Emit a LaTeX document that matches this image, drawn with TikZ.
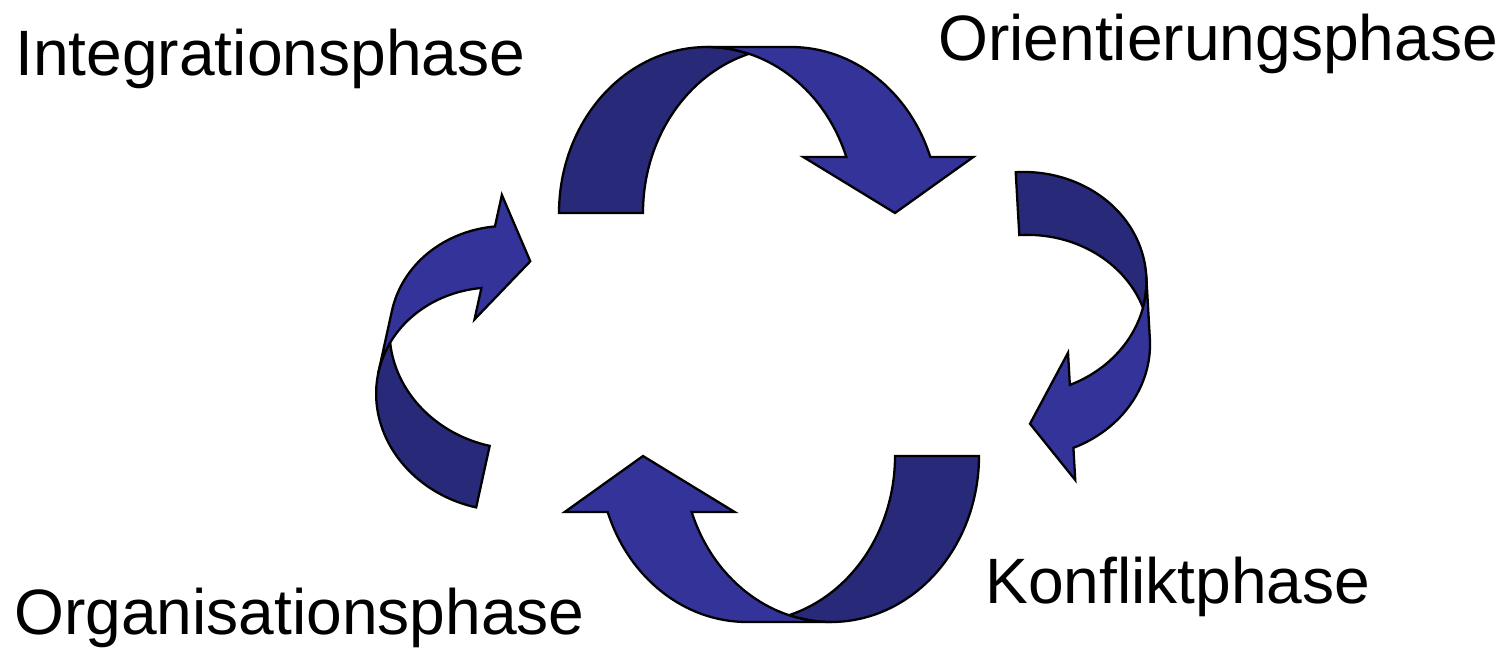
\documentclass[tikz,border=0pt]{standalone}
\usepackage{fontspec}
\setmainfont{Liberation Sans}
\usetikzlibrary{positioning}

\definecolor{phasedark}{RGB}{41,41,122}
\definecolor{phaselight}{RGB}{51,51,153}

\tikzset{
    back/.style={fill=phasedark, draw=black, line width=1.3pt},
    front/.style={fill=phaselight, draw=black, line width=1.3pt},
    % curved arrow: two ellipses, centred at (0,0) and (84,0)
    phasearrow/.pic={
        \pgfmathsetmacro\crossang{acos(84/(2*148))}
        \pgfmathsetmacro\shoulderang{asin(56/166)}
        \pgfmathsetmacro\shoulderx{148*cos(\shoulderang)}
        \fill[back] (-148,0)
            arc[start angle=180, end angle=\crossang, x radius=148, y radius=166]
            arc[start angle=180-\crossang, end angle=180, x radius=148, y radius=166]
            -- cycle;
        \fill[front] (0,166) -- (84,166)
            arc[start angle=90, end angle=\shoulderang, x radius=148, y radius=166]
            -- ++(43,0) -- (188,0) -- (\shoulderx-43,56) -- (\shoulderx,56)
            arc[start angle=\shoulderang, end angle=90, x radius=148, y radius=166]
            -- cycle;
    }
}

\begin{document}
\begin{tikzpicture}[
        x=0.02cm, y=0.02cm,
        phase/.style={font=\fontsize{36.5}{44}\selectfont, anchor=base west, inner sep=0pt}
    ]
    \useasboundingbox (0,0) rectangle (1505,-647);

    \pic at (707,-213) {phasearrow};
    \pic[rotate=-86.75, scale=0.75] at (1022,-283) {phasearrow};
    \pic[rotate=180] at (831,-456) {phasearrow};
    \pic[rotate=77.6, scale=0.75] at (500,-399) {phasearrow};

    \node[phase] (integration) at (15,-75)  {Integrationsphase};
    \node[phase] (orientierung) at (938,-60) {Orientierungsphase};
    \node[phase] (konflikt) at (985,-603)   {Konfliktphase};
    \node[phase] (organisation) at (14,-634) {Organisationsphase};
\end{tikzpicture}
\end{document}
